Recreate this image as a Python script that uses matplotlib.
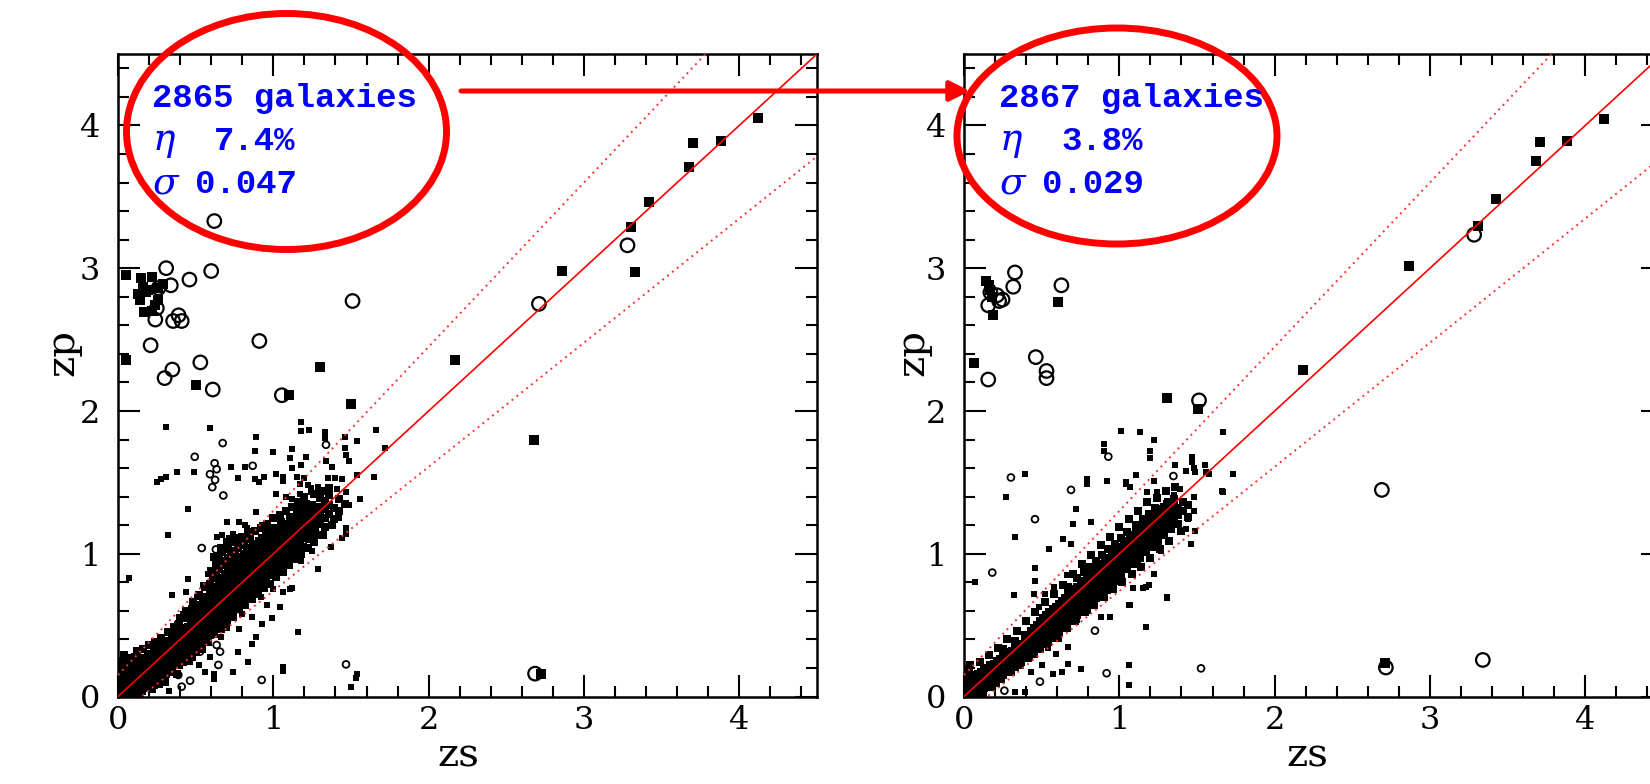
import matplotlib
matplotlib.use('Agg')
import matplotlib.pyplot as plt
import matplotlib.ticker as mticker
import numpy as np
from matplotlib.patches import Ellipse, FancyArrowPatch

plt.rcParams['font.family'] = 'DejaVu Serif'
plt.rcParams['mathtext.fontset'] = 'dejavuserif'

W, H = 1650, 784

# ---------------- left panel (2865 galaxies) ----------------
# dense core, read column by column: zs value -> zp values
leftCoreZs = [0.01, 0.03, 0.05, 0.07, 0.09, 0.11, 0.13, 0.15, 0.17, 0.19,
              0.21, 0.23, 0.25, 0.27, 0.29, 0.31, 0.33, 0.35, 0.37, 0.39,
              0.41, 0.43, 0.45, 0.47, 0.49, 0.51, 0.53, 0.55, 0.57, 0.59,
              0.61, 0.63, 0.65, 0.67, 0.69, 0.71, 0.73, 0.75, 0.77, 0.79,
              0.81, 0.83, 0.85, 0.87, 0.89, 0.91, 0.93, 0.95, 0.97, 0.99,
              1.01, 1.03, 1.05, 1.07, 1.09, 1.11, 1.13, 1.15, 1.17, 1.19,
              1.21, 1.23, 1.25, 1.27, 1.30, 1.33, 1.36, 1.39, 1.42, 1.46]
leftCoreZp = [
    [0.02, 0.07, 0.11, 0.16, 0.23], [0.00, 0.05, 0.09, 0.13, 0.18, 0.25],
    [0.03, 0.08, 0.12, 0.15, 0.21], [0.05, 0.09, 0.14, 0.17, 0.24],
    [0.02, 0.07, 0.11, 0.15, 0.19], [0.06, 0.10, 0.13, 0.18, 0.22, 0.28],
    [0.08, 0.12, 0.16, 0.20, 0.24], [0.05, 0.10, 0.13, 0.17, 0.21, 0.26],
    [0.11, 0.15, 0.19, 0.22, 0.27], [0.09, 0.13, 0.17, 0.20, 0.24, 0.30],
    [0.12, 0.16, 0.19, 0.23, 0.28], [0.08, 0.14, 0.18, 0.21, 0.25, 0.31],
    [0.15, 0.19, 0.23, 0.27, 0.33], [0.13, 0.17, 0.21, 0.24, 0.28, 0.34],
    [0.18, 0.22, 0.26, 0.30, 0.36], [0.16, 0.20, 0.24, 0.28, 0.31, 0.37],
    [0.21, 0.25, 0.29, 0.33, 0.39], [0.19, 0.23, 0.27, 0.31, 0.35, 0.41],
    [0.25, 0.29, 0.33, 0.37, 0.43], [0.22, 0.27, 0.31, 0.35, 0.39, 0.45, 0.51],
    [0.28, 0.32, 0.36, 0.40, 0.46], [0.26, 0.31, 0.35, 0.39, 0.43, 0.48],
    [0.32, 0.36, 0.40, 0.44, 0.49, 0.55], [0.30, 0.35, 0.39, 0.43, 0.47, 0.52],
    [0.36, 0.40, 0.44, 0.48, 0.53, 0.58], [0.34, 0.39, 0.43, 0.47, 0.51, 0.56, 0.62],
    [0.41, 0.45, 0.49, 0.53, 0.58, 0.64], [0.39, 0.44, 0.48, 0.52, 0.56, 0.61, 0.67],
    [0.45, 0.49, 0.54, 0.58, 0.63, 0.70], [0.43, 0.48, 0.52, 0.56, 0.60, 0.65, 0.72, 0.79],
    [0.50, 0.54, 0.58, 0.62, 0.67, 0.74, 0.83],
    [0.48, 0.53, 0.57, 0.61, 0.65, 0.70, 0.77, 0.86, 0.93],
    [0.55, 0.59, 0.63, 0.68, 0.73, 0.80, 0.89, 0.97],
    [0.53, 0.58, 0.62, 0.66, 0.71, 0.76, 0.83, 0.92, 1.01],
    [0.59, 0.64, 0.68, 0.73, 0.79, 0.86, 0.95, 1.03],
    [0.57, 0.62, 0.67, 0.71, 0.76, 0.82, 0.89, 0.97, 1.05],
    [0.64, 0.69, 0.74, 0.79, 0.85, 0.92, 0.99],
    [0.61, 0.66, 0.71, 0.76, 0.81, 0.87, 0.94, 1.02, 1.08],
    [0.68, 0.73, 0.78, 0.83, 0.89, 0.96, 1.04],
    [0.65, 0.70, 0.75, 0.80, 0.85, 0.91, 0.98, 1.06],
    [0.72, 0.77, 0.82, 0.87, 0.93, 1.00, 1.07],
    [0.69, 0.74, 0.79, 0.84, 0.89, 0.95, 1.02],
    [0.76, 0.81, 0.86, 0.91, 0.97, 1.04, 1.10],
    [0.73, 0.78, 0.83, 0.88, 0.93, 0.99, 1.05],
    [0.80, 0.85, 0.90, 0.95, 1.01, 1.07],
    [0.77, 0.82, 0.87, 0.92, 0.97, 1.03, 1.09],
    [0.84, 0.89, 0.94, 0.99, 1.05, 1.11],
    [0.81, 0.86, 0.91, 0.96, 1.01, 1.07, 1.13],
    [0.88, 0.93, 0.98, 1.03, 1.09, 1.15],
    [0.85, 0.90, 0.95, 1.00, 1.05, 1.11],
    [0.92, 0.97, 1.02, 1.07, 1.13, 1.18],
    [0.89, 0.94, 0.99, 1.04, 1.09, 1.15],
    [0.96, 1.01, 1.06, 1.11, 1.17, 1.22],
    [0.93, 0.98, 1.03, 1.08, 1.13, 1.19],
    [1.00, 1.05, 1.10, 1.15, 1.21],
    [0.97, 1.02, 1.07, 1.12, 1.17, 1.24],
    [1.04, 1.09, 1.14, 1.19, 1.26],
    [1.01, 1.06, 1.11, 1.16, 1.22, 1.29],
    [1.08, 1.13, 1.18, 1.24, 1.31],
    [1.05, 1.11, 1.16, 1.21, 1.27],
    [1.12, 1.17, 1.23, 1.29, 1.35],
    [1.10, 1.15, 1.20, 1.26, 1.32],
    [1.16, 1.22, 1.28, 1.34],
    [1.13, 1.19, 1.25, 1.31],
    [1.21, 1.27, 1.33, 1.39],
    [1.19, 1.25, 1.31, 1.37],
    [1.28, 1.34, 1.41],
    [1.24, 1.32],
    [1.30, 1.38],
    [1.35]]
# points on both flanks of the core
leftHalo = [(0.10, 0.00), (0.14, 0.02), (0.18, 0.06), (0.22, 0.05), (0.26, 0.12),
            (0.30, 0.10), (0.34, 0.17), (0.38, 0.16), (0.42, 0.24), (0.46, 0.25),
            (0.50, 0.31), (0.54, 0.33), (0.58, 0.38), (0.62, 0.44), (0.66, 0.47),
            (0.70, 0.53), (0.74, 0.56), (0.78, 0.62), (0.82, 0.64), (0.86, 0.68),
            (0.90, 0.72), (0.94, 0.76), (0.98, 0.79), (1.02, 0.84), (1.06, 0.87),
            (1.10, 0.92), (1.14, 0.96), (1.18, 1.00), (1.22, 1.04), (1.26, 1.08),
            (1.32, 1.13), (1.38, 1.20),
            (0.04, 0.29), (0.08, 0.27), (0.12, 0.32), (0.16, 0.33), (0.20, 0.36),
            (0.24, 0.38), (0.28, 0.41), (0.32, 0.45), (0.36, 0.49), (0.40, 0.55),
            (0.44, 0.60), (0.48, 0.66), (0.52, 0.71), (0.56, 0.77), (0.60, 0.88),
            (0.62, 0.98), (0.66, 1.04), (0.70, 1.08), (0.72, 1.10), (0.76, 1.11),
            (0.80, 1.12), (0.84, 1.15), (0.88, 1.16), (0.92, 1.18), (0.96, 1.21),
            (1.00, 1.25), (1.04, 1.27), (1.08, 1.30), (1.12, 1.33), (1.16, 1.36),
            (1.20, 1.40), (1.26, 1.42), (1.31, 1.44), (1.36, 1.46)]

leftDots = [(0.31, 1.89), (0.59, 1.88), (1.18, 1.92), (1.18, 1.86), (1.23, 1.87),
            (1.33, 1.85), (1.33, 1.81), (1.66, 1.87), (0.89, 1.82), (1.46, 1.82),
            (1.54, 1.79), (0.88, 1.72), (1.00, 1.71), (1.12, 1.73), (1.46, 1.74),
            (1.47, 1.69), (1.49, 1.65), (1.72, 1.74), (1.11, 1.67), (1.21, 1.68),
            (0.82, 1.61), (0.73, 1.61), (0.38, 1.57), (0.31, 1.54), (0.28, 1.52),
            (0.25, 1.50), (0.49, 1.57), (0.77, 1.53), (0.88, 1.52), (0.91, 1.50),
            (0.94, 1.54), (1.35, 1.53), (1.40, 1.53), (1.44, 1.52), (1.65, 1.54),
            (1.54, 1.55), (1.41, 1.45), (1.47, 1.43), (1.49, 1.34), (1.56, 1.38),
            (1.02, 1.56), (1.06, 1.54), (1.06, 1.51), (1.15, 1.54), (1.20, 1.53),
            (1.17, 1.49), (1.22, 1.48), (1.24, 1.46), (1.08, 1.40), (1.12, 1.38),
            (1.17, 1.42), (1.20, 1.37), (1.24, 1.43), (1.29, 1.47), (1.30, 1.40),
            (1.02, 1.42), (1.12, 1.60), (1.18, 1.62), (1.38, 1.61), (1.34, 1.65),
            (0.45, 1.31), (0.32, 1.13), (0.07, 0.83), (1.29, 0.89), (1.16, 0.45),
            (0.93, 0.51), (0.86, 0.56), (0.70, 1.22), (0.89, 1.29), (0.93, 1.20),
            (0.35, 0.71), (0.45, 0.82), (0.44, 0.73), (1.11, 0.75), (1.06, 0.73),
            (1.00, 0.75), (1.47, 1.18), (1.47, 1.14), (1.44, 1.11), (1.37, 1.05),
            (1.42, 1.25), (1.37, 1.20), (1.29, 1.23), (0.82, 1.20), (0.96, 0.64),
            (1.12, 0.76), (1.06, 0.21), (1.06, 0.18), (1.54, 0.16), (1.53, 0.13),
            (1.50, 0.07), (0.84, 0.24), (0.74, 0.17), (0.33, 0.04), (0.62, 0.12),
            (0.56, 0.17), (0.16, 0.03), (0.62, 0.16), (0.77, 0.31), (0.86, 0.37),
            (0.89, 0.42), (0.99, 0.55), (1.04, 0.63), (0.78, 0.47), (0.59, 0.28),
            (0.52, 0.22), (0.48, 0.27), (0.27, 0.08), (0.67, 1.13), (0.74, 1.14),
            (0.83, 1.18), (0.78, 1.22), (0.64, 1.12), (0.58, 0.86), (0.55, 0.78),
            (0.51, 0.70), (0.47, 0.62), (0.42, 0.58), (0.38, 0.51), (0.70, 0.48),
            (0.66, 0.42), (0.80, 0.58), (0.92, 0.70), (1.18, 0.95), (1.25, 1.02)]
leftCircles = [(0.674, 1.775), (1.339, 1.763), (0.494, 1.679), (0.622, 1.634),
               (0.635, 1.592), (0.592, 1.557), (0.625, 1.517), (0.607, 1.466),
               (0.678, 1.408), (0.867, 1.616), (0.539, 1.04), (0.63, 1.03),
               (0.828, 1.10), (0.775, 0.613), (0.635, 0.361), (0.657, 0.314),
               (0.528, 0.314), (0.646, 0.221), (0.464, 0.111), (0.41, 0.069),
               (0.388, 0.151), (0.925, 0.116), (1.468, 0.225)]
leftBigSquares = [(0.05, 2.95), (0.15, 2.93), (0.22, 2.94), (0.14, 2.78), (0.18, 2.83),
                  (0.26, 2.78), (0.17, 2.69), (0.22, 2.70), (0.16, 2.87), (0.19, 2.85),
                  (0.26, 2.86), (0.29, 2.89), (0.13, 2.82), (0.24, 2.74), (0.05, 2.36),
                  (1.30, 2.31), (0.50, 2.18), (1.10, 2.11), (1.50, 2.05), (2.17, 2.36),
                  (2.68, 1.80), (2.86, 2.98), (3.30, 3.29), (3.33, 2.97), (3.42, 3.46),
                  (3.675, 3.71), (3.70, 3.88), (3.88, 3.89), (4.12, 4.05), (2.72, 0.16)]
leftBigCircles = [(0.62, 3.33), (0.31, 3.00), (0.60, 2.98), (0.46, 2.92), (0.34, 2.88),
                  (0.26, 2.86), (1.51, 2.77), (2.71, 2.75), (3.28, 3.16), (0.25, 2.72),
                  (0.39, 2.67), (0.41, 2.63), (0.355, 2.63), (0.24, 2.64), (0.21, 2.46),
                  (0.91, 2.49), (0.53, 2.34), (0.35, 2.29), (0.30, 2.23), (0.61, 2.15),
                  (1.055, 2.11), (2.685, 0.16)]

# ---------------- right panel (2867 galaxies) ----------------
rightCoreZs = [0.01, 0.03, 0.05, 0.07, 0.09, 0.11, 0.13, 0.15, 0.17, 0.19,
               0.21, 0.23, 0.25, 0.27, 0.29, 0.31, 0.33, 0.35, 0.37, 0.39,
               0.41, 0.43, 0.45, 0.47, 0.49, 0.51, 0.53, 0.55, 0.57, 0.59,
               0.61, 0.63, 0.65, 0.67, 0.69, 0.71, 0.73, 0.75, 0.77, 0.79,
               0.81, 0.83, 0.85, 0.87, 0.89, 0.91, 0.93, 0.95, 0.97, 0.99,
               1.01, 1.03, 1.05, 1.07, 1.09, 1.11, 1.13, 1.15, 1.17, 1.19,
               1.21, 1.23, 1.25, 1.27, 1.29, 1.31, 1.33, 1.35, 1.38, 1.41, 1.44]
rightCoreZp = [
    [0.01, 0.05, 0.10, 0.14], [0.03, 0.07, 0.12, 0.19], [0.00, 0.04, 0.09, 0.13],
    [0.05, 0.10, 0.15], [0.03, 0.07, 0.11, 0.16], [0.08, 0.12, 0.17],
    [0.06, 0.10, 0.14, 0.19], [0.11, 0.15, 0.20], [0.09, 0.13, 0.17, 0.22],
    [0.14, 0.18, 0.23], [0.12, 0.16, 0.20, 0.25], [0.17, 0.21, 0.26],
    [0.15, 0.19, 0.23, 0.28, 0.33], [0.20, 0.24, 0.29], [0.18, 0.22, 0.26, 0.31],
    [0.23, 0.27, 0.32], [0.21, 0.25, 0.29, 0.34, 0.39], [0.26, 0.30, 0.35],
    [0.24, 0.28, 0.32, 0.37], [0.29, 0.33, 0.38, 0.43], [0.27, 0.31, 0.35, 0.40],
    [0.32, 0.36, 0.41, 0.46], [0.30, 0.34, 0.39, 0.43, 0.48], [0.36, 0.40, 0.45, 0.50],
    [0.33, 0.38, 0.42, 0.47, 0.53], [0.40, 0.44, 0.49, 0.55],
    [0.37, 0.42, 0.46, 0.51, 0.57], [0.44, 0.48, 0.53, 0.59],
    [0.41, 0.46, 0.50, 0.55, 0.61], [0.48, 0.52, 0.57, 0.63],
    [0.45, 0.50, 0.54, 0.59, 0.65], [0.52, 0.56, 0.61, 0.67],
    [0.49, 0.54, 0.58, 0.63, 0.69], [0.56, 0.60, 0.65, 0.71, 0.77],
    [0.53, 0.58, 0.62, 0.67, 0.73], [0.60, 0.64, 0.69, 0.75],
    [0.57, 0.62, 0.66, 0.71, 0.77, 0.83], [0.64, 0.68, 0.73, 0.79],
    [0.61, 0.66, 0.70, 0.75, 0.81, 0.87], [0.68, 0.72, 0.77, 0.83],
    [0.65, 0.70, 0.74, 0.79, 0.85, 0.91], [0.72, 0.76, 0.81, 0.87],
    [0.69, 0.74, 0.78, 0.83, 0.89, 0.95], [0.76, 0.80, 0.85, 0.91],
    [0.73, 0.78, 0.82, 0.87, 0.93, 0.99], [0.80, 0.84, 0.89, 0.95],
    [0.77, 0.82, 0.86, 0.91, 0.97, 1.03], [0.84, 0.88, 0.93, 0.99],
    [0.81, 0.86, 0.90, 0.95, 1.01, 1.07], [0.88, 0.92, 0.97, 1.03],
    [0.85, 0.90, 0.94, 0.99, 1.05, 1.11], [0.92, 0.96, 1.01, 1.07],
    [0.89, 0.94, 0.98, 1.03, 1.09, 1.15], [0.96, 1.00, 1.05, 1.11],
    [0.93, 0.98, 1.02, 1.07, 1.13], [1.00, 1.04, 1.09, 1.15, 1.20],
    [0.97, 1.02, 1.06, 1.11, 1.17], [1.04, 1.08, 1.13, 1.19, 1.24],
    [1.01, 1.06, 1.10, 1.15, 1.21], [1.08, 1.12, 1.17, 1.23, 1.28],
    [1.05, 1.10, 1.14, 1.19, 1.25], [1.12, 1.16, 1.21, 1.27, 1.32],
    [1.09, 1.14, 1.18, 1.23, 1.29], [1.16, 1.20, 1.25, 1.31],
    [1.13, 1.18, 1.22, 1.27, 1.33], [1.20, 1.24, 1.29, 1.35],
    [1.17, 1.22, 1.26, 1.31], [1.24, 1.28, 1.33, 1.38],
    [1.21, 1.27, 1.32], [1.30, 1.36], [1.26, 1.34]]
rightHalo = [(0.12, 0.02), (0.18, 0.07), (0.24, 0.12), (0.30, 0.17), (0.36, 0.22),
             (0.42, 0.28), (0.48, 0.33), (0.54, 0.38), (0.60, 0.43), (0.66, 0.48),
             (0.72, 0.54), (0.78, 0.59), (0.84, 0.64), (0.90, 0.70), (0.96, 0.75),
             (1.02, 0.80), (1.08, 0.86), (1.14, 0.91), (1.20, 0.97), (1.26, 1.03),
             (1.32, 1.09), (1.40, 1.16),
             (0.04, 0.22), (0.10, 0.24), (0.16, 0.29), (0.22, 0.34), (0.28, 0.40),
             (0.34, 0.46), (0.40, 0.53), (0.46, 0.59), (0.52, 0.66), (0.58, 0.72),
             (0.64, 0.78), (0.70, 0.86), (0.76, 0.93), (0.82, 0.99), (0.88, 1.06),
             (0.94, 1.12), (1.00, 1.19), (1.06, 1.24), (1.12, 1.30), (1.18, 1.36),
             (1.24, 1.39), (1.30, 1.44), (1.36, 1.47)]

rightDots = [(1.01, 1.86), (1.13, 1.85), (1.67, 1.85), (0.90, 1.77), (0.90, 1.72),
             (1.20, 1.72), (1.20, 1.67), (1.22, 1.80), (0.39, 1.56), (0.27, 1.40),
             (0.33, 1.12), (1.73, 1.56), (1.67, 1.43), (1.11, 1.55), (1.04, 1.50),
             (1.07, 1.47), (0.92, 1.51), (0.79, 1.52), (0.72, 1.31), (1.22, 1.51),
             (1.47, 1.68), (1.47, 1.64), (1.48, 1.60), (1.49, 1.57), (1.43, 1.58),
             (1.55, 1.62), (1.56, 1.57), (1.58, 1.56), (1.36, 1.62), (1.48, 1.30),
             (0.46, 0.90), (0.32, 0.71), (0.46, 0.81), (0.45, 0.72), (0.07, 0.80),
             (0.70, 1.21), (0.82, 1.22), (0.64, 1.10), (0.69, 1.07), (0.55, 1.03),
             (0.79, 1.49), (1.04, 1.49), (1.18, 1.43), (1.24, 1.43), (1.48, 1.40),
             (1.44, 1.24), (1.49, 1.16), (1.43, 1.17), (1.31, 0.70), (1.17, 0.49),
             (1.06, 0.64), (0.94, 0.56), (0.88, 0.56), (1.17, 0.77), (1.19, 0.78),
             (1.15, 0.76), (1.06, 0.22), (1.06, 0.08), (0.67, 0.35), (0.75, 0.19),
             (0.67, 0.23), (0.63, 0.17), (0.57, 0.16), (0.59, 0.30), (0.54, 0.34),
             (0.50, 0.22), (0.43, 0.17), (0.39, 0.03), (0.33, 0.03), (0.21, 0.09),
             (0.16, 0.14), (0.04, 0.16), (0.04, 0.09), (0.08, 0.07), (1.31, 0.69),
             (1.22, 0.86), (1.09, 0.76), (1.07, 0.64), (1.66, 1.44), (1.46, 1.07),
             (1.35, 1.41), (1.31, 1.37), (1.39, 1.45), (1.28, 1.32), (0.93, 0.74),
             (0.98, 0.80), (1.01, 0.85), (1.12, 0.93), (1.19, 0.97), (1.27, 1.02),
             (0.61, 0.40), (0.72, 0.52), (0.80, 0.60), (0.48, 0.63), (0.58, 0.77),
             (0.66, 0.85), (0.52, 0.72)]
rightCircles = [(0.302, 1.534), (0.689, 1.447), (0.457, 1.242), (0.182, 0.868),
                (0.929, 1.68), (1.348, 1.544), (0.843, 0.461), (0.918, 0.163),
                (1.526, 0.197), (0.489, 0.104), (0.26, 0.041)]
rightBigSquares = [(0.144, 2.91), (0.17, 2.85), (0.18, 2.80), (0.186, 2.67), (0.16, 2.88),
                   (0.605, 2.76), (0.064, 2.335), (1.306, 2.09), (1.509, 2.013),
                   (2.184, 2.288), (2.867, 3.013), (3.312, 3.297), (3.426, 3.486),
                   (3.681, 3.753), (3.709, 3.882), (3.881, 3.889), (4.123, 4.047),
                   (2.71, 0.238)]
rightBigCircles = [(0.328, 2.97), (0.317, 2.87), (0.627, 2.88), (0.156, 2.74),
                   (0.213, 2.81), (0.248, 2.78), (0.226, 2.77), (0.17, 2.83),
                   (0.156, 2.22), (0.462, 2.377), (0.531, 2.28), (0.531, 2.23),
                   (1.513, 2.074), (3.284, 3.234), (2.69, 1.447), (2.716, 0.203),
                   (3.34, 0.256)]

leftStats = ['2865 galaxies', '7.4%', '0.047']
rightStats = ['2867 galaxies', '3.8%', '0.029']

# catastrophic-outlier limit |zp - zs| = 0.15 (1 + z)
outlierCut = 0.15


def corePoints(zsCols, zpCols):
    zs, zp = [], []
    for x, col in zip(zsCols, zpCols):
        zs += [x] * len(col)
        zp += col
    return zs, zp


def drawPanel(ax, coreZs, coreZp, halo, dots, circles, bigSquares, bigCircles):
    zs, zp = corePoints(coreZs, coreZp)
    ax.scatter(zs, zp, marker='s', s=34, c='k', linewidths=0, zorder=2)
    hl = np.array(halo)
    ax.scatter(hl[:, 0], hl[:, 1], marker='s', s=26, c='k', linewidths=0, zorder=2)
    d = np.array(dots)
    ax.scatter(d[:, 0], d[:, 1], marker='s', s=20, c='k', linewidths=0, zorder=2)
    c = np.array(circles)
    ax.scatter(c[:, 0], c[:, 1], marker='o', s=24, facecolors='none',
               edgecolors='k', linewidths=1.3, zorder=2)
    b = np.array(bigSquares)
    ax.scatter(b[:, 0], b[:, 1], marker='s', s=48, c='k', linewidths=0, zorder=2)
    bc = np.array(bigCircles)
    ax.scatter(bc[:, 0], bc[:, 1], marker='o', s=95, facecolors='none',
               edgecolors='k', linewidths=1.6, zorder=2)

    x = np.array([0.0, 4.5])
    ax.plot(x, x, color='red', lw=1.2, zorder=3)
    ax.plot(x, (1 + outlierCut) * x + outlierCut, color='#ff3030', lw=1.4,
            ls=(0, (1, 2.2)), zorder=3)
    ax.plot(x, (x - outlierCut) / (1 + outlierCut), color='#ff3030', lw=1.4,
            ls=(0, (1, 2.2)), zorder=3)

    ax.set_xlim(0, 4.5)
    ax.set_ylim(0, 4.5)
    for axis in [ax.xaxis, ax.yaxis]:
        axis.set_major_locator(mticker.MultipleLocator(1))
        axis.set_minor_locator(mticker.MultipleLocator(0.2))
    ax.tick_params(which='both', direction='in', top=True, right=True, width=1.5)
    ax.tick_params(which='major', length=16, labelsize=23)
    ax.tick_params(axis='x', which='major', pad=6)
    ax.tick_params(axis='y', which='major', pad=13)
    ax.tick_params(which='minor', length=8)
    for s in ax.spines.values():
        s.set_linewidth(1.8)


fig = plt.figure(figsize=(W / 100, H / 100), dpi=100)

axL = fig.add_axes([118 / W, 1 - 696.5 / H, 699 / W, 642.5 / H])
drawPanel(axL, leftCoreZs, leftCoreZp, leftHalo, leftDots, leftCircles,
          leftBigSquares, leftBigCircles)
axR = fig.add_axes([964 / W, 1 - 696.5 / H, 699 / W, 642.5 / H])
drawPanel(axR, rightCoreZs, rightCoreZp, rightHalo, rightDots, rightCircles,
          rightBigSquares, rightBigCircles)

# overlay in pixel units for labels, ellipses and the arrow
ov = fig.add_axes([0, 0, 1, 1])
ov.set_xlim(0, W)
ov.set_ylim(H, 0)
ov.axis('off')

for xc in [63, 913]:
    ov.text(xc, 352, 'zp', rotation=90, ha='center', va='center', fontsize=29)
for xc in [458, 1307]:
    ov.text(xc, 756, 'zs', ha='center', va='center', fontsize=29)

blue = '#0000ff'
mono = 'Liberation Mono'
for x0, stats in [(152, leftStats), (999, rightStats)]:
    ov.text(x0, 107, stats[0], color=blue, family=mono, fontsize=24.5,
            fontweight='bold', va='baseline')
    ov.text(x0, 150, r'$\eta$', color=blue, fontsize=27, va='baseline')
    ov.text(x0 + 62, 150, stats[1], color=blue, family=mono, fontsize=24.5,
            fontweight='bold', va='baseline')
    ov.text(x0, 193, r'$\sigma$', color=blue, fontsize=27, va='baseline')
    ov.text(x0 + 43, 193, stats[2], color=blue, family=mono, fontsize=24.5,
            fontweight='bold', va='baseline')

ov.add_patch(Ellipse((286.5, 131.5), 320, 236, fill=False, ec='red', lw=5))
ov.add_patch(Ellipse((1117, 136), 320, 216, fill=False, ec='red', lw=5))
ov.add_patch(FancyArrowPatch((461, 91), (970, 91),
                             arrowstyle='-|>,head_length=0.6,head_width=0.3',
                             mutation_scale=20, lw=3.6, color='red',
                             shrinkA=0, shrinkB=0))

fig.savefig('out.png', dpi=100, facecolor='white')
